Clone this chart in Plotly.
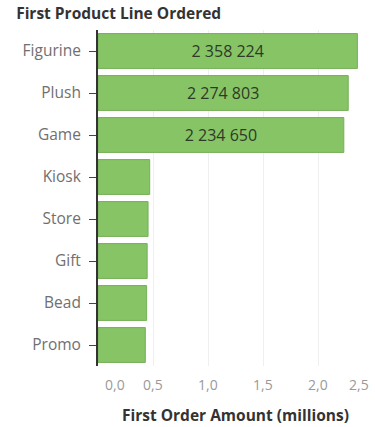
import plotly.graph_objects as go

categories = ["Figurine", "Plush", "Game", "Kiosk", "Store", "Gift", "Bead", "Promo"]
amounts = [2358224, 2274803, 2234650, 470000, 455000, 447000, 442000, 430000]
bar_labels = ["2 358 224", "2 274 803", "2 234 650", "", "", "", "", ""]
tick_values = [0, 500000, 1000000, 1500000, 2000000, 2500000]
tick_labels = ["0,0", "0,5", "1,0", "1,5", "2,0", "2,5"]

FONT = "Open Sans"

fig = go.Figure(
    go.Bar(
        x=amounts,
        y=categories,
        orientation="h",
        text=bar_labels,
        textposition="inside",
        insidetextanchor="middle",
        textfont=dict(family=FONT, size=16, color="#2e3a28"),
        marker=dict(color="#86c466", line=dict(color="#76b058", width=1)),
        hoverinfo="skip",
    )
)

# x tick labels placed on the axis scale; end labels kept inside the plot width
n = len(tick_values)
for i, (v, t) in enumerate(zip(tick_values, tick_labels)):
    anchor = "left" if i == 0 else ("right" if i == n - 1 else "center")
    shift = 5 if i == 0 else (-2 if i == n - 1 else 0)
    fig.add_annotation(
        x=v, xref="x", y=0, yref="paper", yanchor="top",
        yshift=-7, xanchor=anchor, xshift=shift,
        text=t, showarrow=False,
        font=dict(family=FONT, size=14, color="#9a9a9a"),
    )

fig.add_annotation(
    x=0.5, xref="paper", y=0, yref="paper", yanchor="top", yshift=-36,
    text="<b>First Order Amount (millions)</b>", showarrow=False,
    font=dict(family=FONT, size=15.5, color="#333333"),
)

fig.update_layout(
    width=375,
    height=427,
    margin=dict(l=98, r=2, t=30, b=61),
    paper_bgcolor="white",
    plot_bgcolor="white",
    bargap=0.17,
    showlegend=False,
    font=dict(family=FONT, color="#666666", size=14),
    title=dict(
        text="<b>First Product Line Ordered</b>",
        x=0.043, xanchor="left", y=0.981, yanchor="top",
        font=dict(family=FONT, size=15.5, color="#333333"),
    ),
    xaxis=dict(
        range=[0, 2500000],
        tickvals=tick_values,
        showticklabels=False,
        showgrid=True,
        gridcolor="#efefef",
        zeroline=False,
        showline=False,
        ticks="",
        automargin=False,
    ),
    yaxis=dict(
        categoryorder="array",
        categoryarray=categories[::-1],
        showline=True,
        linecolor="#333333",
        linewidth=2,
        ticks="outside",
        ticklen=7,
        tickcolor="#444444",
        tickwidth=1,
        ticklabelstandoff=5,
        showgrid=False,
        automargin=False,
        tickfont=dict(family=FONT, size=15.5, color="#707070"),
    ),
)

fig.write_html(
    "out.html",
    config={"displayModeBar": False},
    post_script="document.body.style.margin='0px';document.body.style.overflow='hidden';",
)
